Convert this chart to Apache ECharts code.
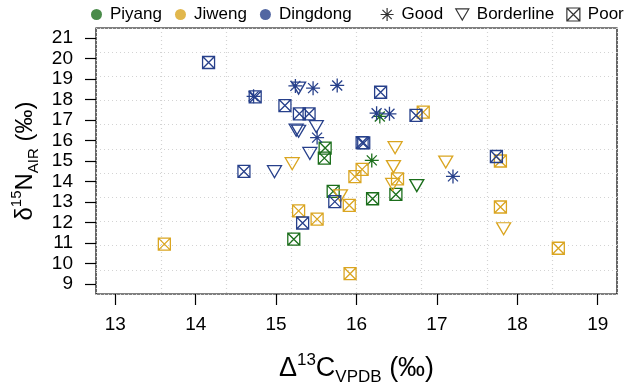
<!DOCTYPE html>
<html>
<head>
<meta charset="utf-8">
<script src="https://cdn.jsdelivr.net/npm/echarts@6.0.0/dist/echarts.min.js"></script>
<style>
  html, body { margin: 0; padding: 0; background: #fff; }
  #myChart { width: 624px; height: 391px; }
</style>
</head>
<body>
<div id="myChart"></div>
<script>
/*---------- data: [Δ13C, δ15N] per site and quality ----------*/
var xTicks = [13, 14, 15, 16, 17, 18, 19];
var yTicks = [9, 10, 11, 12, 13, 14, 15, 16, 17, 18, 19, 20, 21];

var sites = ['Piyang', 'Jiweng', 'Dingdong'];
var qualities = ['Good', 'Borderline', 'Poor'];

var piyangGood = [[16.29, 17.17], [16.19, 15.03]];
var piyangBorderline = [[16.75, 13.80]];
var piyangPoor = [[15.61, 15.63], [15.60, 15.14], [15.71, 13.52], [16.20, 13.16], [16.49, 13.37], [15.22, 11.19]];

var jiwengGood = [];
var jiwengBorderline = [[15.20, 14.87], [16.48, 15.65], [16.46, 14.73], [16.45, 13.86], [17.11, 14.95], [15.80, 13.30], [17.83, 11.70]];
var jiwengPoor = [[16.83, 17.38], [16.07, 14.59], [15.98, 14.24], [16.51, 14.13], [17.79, 15.00], [15.28, 12.57],
    [15.91, 12.84], [15.51, 12.17], [13.61, 10.95], [15.92, 9.51], [17.79, 12.76], [18.51, 10.75]];

var dingdongGood = [[14.72, 18.15], [15.24, 18.66], [15.46, 18.55], [15.76, 18.68], [15.51, 16.14], [16.25, 17.33], [16.41, 17.30], [17.20, 14.25]];
var dingdongBorderline = [[15.28, 18.55], [15.50, 16.67], [15.25, 16.50], [15.28, 16.45], [15.42, 15.37], [14.98, 14.48]];
var dingdongPoor = [[14.16, 19.80], [14.74, 18.12], [15.11, 17.70], [15.29, 17.30], [15.41, 17.30], [16.07, 15.90], [16.09, 15.88],
    [16.30, 18.35], [16.74, 17.22], [17.74, 15.22], [14.60, 14.49], [15.73, 13.02], [15.33, 11.98]];

var siteColors = {Piyang: '#1b6e1b', Jiweng: '#daa520', Dingdong: '#27408b'};
var symbolPaths = {
    Good: 'path://M7 0 L7 14 M0 7 L14 7 M2 2 L12 12 M12 2 L2 12',
    Borderline: 'path://M0 0 L14 0 L7 12 Z',
    Poor: 'path://M0 0 L12 0 L12 12 L0 12 Z M0 0 L12 12 M12 0 L0 12'
};
var symbolSizes = {Good: [14, 14], Borderline: [14, 12], Poor: [12, 12]};

var dataSets = {
    Piyang: {Good: piyangGood, Borderline: piyangBorderline, Poor: piyangPoor},
    Jiweng: {Good: jiwengGood, Borderline: jiwengBorderline, Poor: jiwengPoor},
    Dingdong: {Good: dingdongGood, Borderline: dingdongBorderline, Poor: dingdongPoor}
};

var font = 'Liberation Sans, Arial, sans-serif';

var series = [];
sites.forEach(function (s) {
    qualities.forEach(function (q) {
        series.push({
            name: s + ' ' + q,
            type: 'scatter',
            data: dataSets[s][q],
            symbol: symbolPaths[q],
            symbolSize: symbolSizes[q],
            itemStyle: {color: 'rgba(0,0,0,0)', borderColor: siteColors[s], borderWidth: 1.3, opacity: 1},
            emphasis: {disabled: true},
            silent: true
        });
    });
});
/* empty series, only for the legends */
sites.forEach(function (s) {
    series.push({name: s, type: 'scatter', data: [], symbol: 'circle', itemStyle: {color: siteColors[s]}});
});
qualities.forEach(function (q) {
    series.push({name: q, type: 'scatter', data: [], symbol: symbolPaths[q],
        itemStyle: {color: 'rgba(0,0,0,0)', borderColor: '#000', borderWidth: 1.2}});
});

var myChart = echarts.init(document.getElementById('myChart'));
myChart.setOption({
    animation: false,
    textStyle: {fontFamily: font},
    legend: [{
        left: 86, top: 1, width: 300,
        itemWidth: 11, itemHeight: 11, itemGap: 13,
        selectedMode: false,
        data: sites.map(function (s) { return {name: s, icon: 'circle', itemStyle: {color: siteColors[s]}}; }),
        textStyle: {fontSize: 17, color: '#000', fontFamily: font, padding: [0, 0, 0, 3]}
    }, {
        left: 375, top: 1, width: 260,
        itemWidth: 13, itemHeight: 13, itemGap: 12,
        selectedMode: false,
        data: qualities.map(function (q) {
            return {name: q, icon: symbolPaths[q],
                itemStyle: {color: 'rgba(0,0,0,0)', borderColor: '#000', borderWidth: 1.2}};
        }),
        textStyle: {fontSize: 17, color: '#000', fontFamily: font, padding: [0, 0, 0, 3]}
    }],
    grid: {left: 96, right: 7, top: 28, bottom: 91, show: true, borderColor: '#000', borderWidth: 1.2},
    xAxis: [{
        type: 'value', min: 12.76, max: 19.24,
        axisLine: {show: false},
        axisTick: {show: true, length: 11, customValues: xTicks, lineStyle: {color: '#000', width: 1.2}},
        axisLabel: {customValues: xTicks, fontSize: 19, color: '#000', margin: 21, fontFamily: font},
        splitLine: {show: false},
        name: '{m|Δ}{sup|13}{m|C}{sub|VPDB}{m| (‰)}',
        nameLocation: 'middle', nameGap: 58,
        nameTextStyle: {
            color: '#000', fontFamily: font,
            rich: {
                m: {fontSize: 27, lineHeight: 34, verticalAlign: 'middle', fontFamily: font, color: '#000'},
                sup: {fontSize: 17, verticalAlign: 'top', fontFamily: font, color: '#000'},
                sub: {fontSize: 17, verticalAlign: 'bottom', fontFamily: font, color: '#000'}
            }
        }
    }, {
        type: 'value', min: 0, max: 8, interval: 1, position: 'top',
        axisLine: {show: false}, axisTick: {show: false}, axisLabel: {show: false},
        splitLine: {show: true, lineStyle: {color: '#d3d3d3', type: [1, 3], width: 1.2}}
    }],
    yAxis: [{
        type: 'value', min: 8.52, max: 21.48,
        axisLine: {show: false},
        axisTick: {show: true, length: 11, customValues: yTicks, lineStyle: {color: '#000', width: 1.2}},
        axisLabel: {customValues: yTicks, fontSize: 19, color: '#000', margin: 23, fontFamily: font},
        splitLine: {show: false},
        name: '{m|δ}{sup|15}{m|N}{sub|AIR}{m| (‰)}',
        nameLocation: 'middle', nameGap: 53, nameRotate: 90,
        nameTextStyle: {
            color: '#000', fontFamily: font,
            rich: {
                m: {fontSize: 24, lineHeight: 32, verticalAlign: 'middle', fontFamily: font, color: '#000'},
                sup: {fontSize: 15, verticalAlign: 'top', fontFamily: font, color: '#000'},
                sub: {fontSize: 15, verticalAlign: 'bottom', fontFamily: font, color: '#000'}
            }
        }
    }, {
        type: 'value', min: 0, max: 11, interval: 1, position: 'right',
        axisLine: {show: false}, axisTick: {show: false}, axisLabel: {show: false},
        splitLine: {show: true, lineStyle: {color: '#d3d3d3', type: [1, 3], width: 1.2}}
    }],
    series: series
});
</script>
</body>
</html>
